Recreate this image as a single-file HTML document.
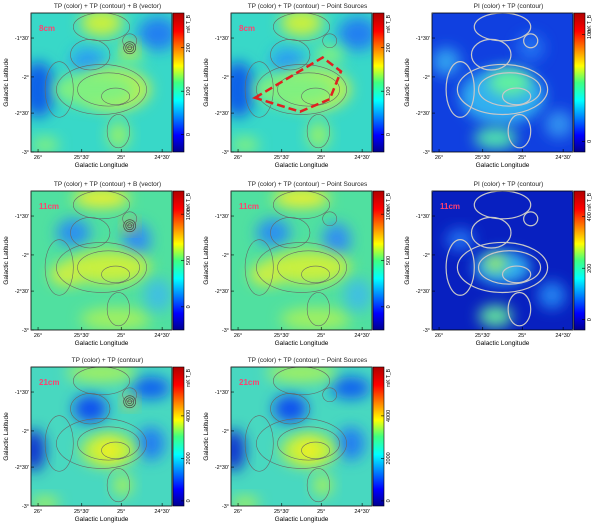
<!DOCTYPE html>
<html><head><meta charset="utf-8">
<style>
html,body{margin:0;padding:0;background:#fff;}
body{width:600px;height:526px;overflow:hidden;font-family:"Liberation Sans",sans-serif;}
svg text{font-family:"Liberation Sans",sans-serif;}
</style></head>
<body>
<svg id="fig" width="600" height="526" viewBox="0 0 600 526" xmlns="http://www.w3.org/2000/svg">
<defs>
<linearGradient id="jet" x1="0" y1="1" x2="0" y2="0">
<stop offset="0" stop-color="#00008f"/><stop offset="0.12" stop-color="#0000ff"/>
<stop offset="0.37" stop-color="#00ffff"/><stop offset="0.5" stop-color="#40ff80"/>
<stop offset="0.62" stop-color="#ffff00"/><stop offset="0.87" stop-color="#ff0000"/>
<stop offset="1" stop-color="#b00000"/></linearGradient>
<filter id="bl" x="-50%" y="-50%" width="200%" height="200%"><feGaussianBlur stdDeviation="7"/></filter>
</defs>
</svg>
<script>
const xTickLabels=["26°","25°30'","25°","24°30'"];
const xTickPos=[0.05,0.36,0.64,0.93];
const yTickLabels=["-1°30'","-2°","-2°30'","-3°"];
const yTickPos=[0.18,0.46,0.72,1.0];
const titles=["TP (color) + TP (contour) + B (vector)","TP (color) + TP (contour) \u2212 Point Sources","PI (color) + TP (contour)",
"TP (color) + TP (contour) + B (vector)","TP (color) + TP (contour) \u2212 Point Sources","PI (color) + TP (contour)",
"TP (color) + TP (contour)","TP (color) + TP (contour) \u2212 Point Sources"];
const bands=["8cm","8cm","","11cm","11cm","11cm","21cm","21cm"];
const cbarTicks=[[0,100,200],[0,100,200],[0,100],[0,500,1000],[0,500,1000],[0,200,400],[0,2000,4000],[0,2000,4000]];
const cbarMin=[-40,-40,-10,-250,-250,-40,-240,-240];
const cbarMax=[280,280,120,1250,1250,500,6300,6300];
const colX=[31,231,432], rowY=[13,191,367], W=141, H=139;
const NS="http://www.w3.org/2000/svg";
const svg=document.getElementById('fig');
function mk(t,a,p){const e=document.createElementNS(NS,t);for(const k in a)e.setAttribute(k,a[k]);(p||svg).appendChild(e);return e;}
const tpBlobs=[[0.5,0.5,0.7,0.7,"#38d8c8"],[0.05,0.55,0.12,0.2,"#1060e8"],[0.4,0.35,0.12,0.1,"#2aa0f0"],[0.9,0.15,0.14,0.12,"#2080f0"],
[0.5,0.07,0.15,0.1,"#c8f040"],[0.6,0.55,0.25,0.15,"#c0f050"],[0.45,0.55,0.3,0.12,"#80f080"],[0.7,0.3,0.1,0.07,"#80f080"],[0.62,0.88,0.08,0.1,"#90f070"],[0.1,0.95,0.1,0.06,"#80f080"]];
const tp2Blobs=[[0.5,0.5,0.7,0.7,"#50e0a0"],[0.3,0.3,0.12,0.1,"#2a90f0"],[0.75,0.35,0.1,0.12,"#3090f0"],[0.5,0.05,0.2,0.07,"#e8f030"],
[0.55,0.55,0.3,0.12,"#c8f040"],[0.25,0.6,0.12,0.08,"#d0f040"],[0.6,0.92,0.25,0.08,"#a0f060"],[0.9,0.75,0.1,0.12,"#40c0e0"]];
const piBlobs=[[0.5,0.5,0.7,0.7,"#1040e0"],[0.5,0.6,0.3,0.2,"#30b0f0"],[0.55,0.5,0.15,0.1,"#60f0a0"],[0.45,0.9,0.15,0.08,"#50e0b0"],[0.1,0.35,0.1,0.1,"#30a0f0"],[0.9,0.8,0.1,0.1,"#3090f0"],[0.7,0.25,0.1,0.1,"#2070f0"]];
const pi2Blobs=[[0.5,0.5,0.7,0.7,"#0820c0"],[0.5,0.55,0.2,0.12,"#30b0f0"],[0.45,0.52,0.08,0.06,"#a0f060"],[0.45,0.9,0.12,0.08,"#60e0a0"],[0.85,0.75,0.1,0.1,"#2080f0"],[0.2,0.35,0.1,0.08,"#2070f0"]];
const hiBlobs=[[0.5,0.5,0.7,0.7,"#48d8c0"],[0.42,0.3,0.12,0.1,"#1050f0"],[0.02,0.6,0.08,0.15,"#1030d0"],[0.85,0.55,0.1,0.12,"#2080f0"],[0.85,0.15,0.14,0.08,"#1060f0"],
[0.55,0.6,0.2,0.12,"#c0f040"],[0.55,0.6,0.08,0.07,"#f0f020"],[0.5,0.04,0.25,0.07,"#a0f060"],[0.65,0.85,0.07,0.08,"#a0f060"],[0.1,0.98,0.1,0.05,"#a0f060"]];
const panelBlobs=[tpBlobs,tpBlobs,piBlobs,tp2Blobs,tp2Blobs,pi2Blobs,hiBlobs,hiBlobs];
const pointSrc=[true,false,false,true,false,false,true,false];
const contours=[[0.5,0.55,0.32,0.18],[0.55,0.55,0.22,0.12],[0.6,0.6,0.1,0.06],[0.7,0.2,0.05,0.05],[0.5,0.1,0.2,0.1],[0.62,0.85,0.08,0.12],[0.42,0.3,0.14,0.11],[0.2,0.55,0.1,0.2]];
for(let i=0;i<8;i++){
 const x0=colX[i%3], y0=rowY[Math.floor(i/3)];
 const g=mk('g',{});
 
 
 const cp=mk('clipPath',{id:'c'+i},g); mk('rect',{x:x0,y:y0,width:W,height:H},cp);
 const img=mk('g',{'clip-path':'url(#c'+i+')'},g);
 
 
 panelBlobs[i].forEach((b,j)=>{mk('ellipse',{cx:x0+b[0]*W,cy:y0+b[1]*H,rx:b[2]*W,ry:b[3]*H,fill:b[4],filter:j?'url(#bl)':''},img);});
 if(pointSrc[i]){mk('circle',{cx:x0+0.7*W,cy:y0+0.25*H,r:6,fill:'#f0c020',filter:'url(#bl)'},img);
  [2,4,6].forEach(r=>mk('circle',{cx:x0+0.7*W,cy:y0+0.25*H,r:r,fill:'none',stroke:'#444','stroke-width':0.7},img));}
 contours.forEach(c=>{mk('ellipse',{cx:x0+c[0]*W,cy:y0+c[1]*H,rx:c[2]*W,ry:c[3]*H,fill:'none',stroke:i%3==2?'#c8c8c8':'#666','stroke-width':i%3==2?1.2:0.6},img);});
 if(i==1){const p=mk('path',{d:`M${x0+0.17*W},${y0+0.61*H} L${x0+0.65*W},${y0+0.32*H} L${x0+0.78*W},${y0+0.42*H} L${x0+0.7*W},${y0+0.62*H} L${x0+0.49*W},${y0+0.71*H} Z`,fill:'none',stroke:'#e02020','stroke-width':2.5,'stroke-dasharray':'8,4'},img);}
 mk('rect',{x:x0,y:y0,width:W,height:H,fill:'none',stroke:'#000','stroke-width':0.8},g);
 if(bands[i]){const t=mk('text',{x:x0+8,y:y0+18,'font-size':8,fill:'#ff4070','font-weight':'bold'},g);t.textContent=bands[i];}
 const tt=mk('text',{x:x0+W/2+6,y:y0-5,'font-size':6.5,'text-anchor':'middle',fill:'#222'},g);tt.textContent=titles[i];
 
 xTickLabels.forEach((l,k)=>{const x=x0+xTickPos[k]*W;mk('line',{x1:x,y1:y0+H,x2:x,y2:y0+H-3,stroke:'#000','stroke-width':0.6},g);
  const t=mk('text',{x:x,y:y0+H+7,'font-size':5.5,'text-anchor':'middle'},g);t.textContent=l;});
 yTickLabels.forEach((l,k)=>{const y=y0+yTickPos[k]*H;mk('line',{x1:x0,y1:y,x2:x0+3,y2:y,stroke:'#000','stroke-width':0.6},g);
  const t=mk('text',{x:x0-2,y:y+2,'font-size':5.5,'text-anchor':'end'},g);t.textContent=l;});
 const xl=mk('text',{x:x0+W/2,y:y0+H+15,'font-size':6.5,'text-anchor':'middle'},g);xl.textContent='Galactic Longitude';
 
 const yl=mk('text',{x:0,y:0,'font-size':6.5,'text-anchor':'middle',transform:`translate(${x0-23},${y0+H/2}) rotate(-90)`},g);yl.textContent='Galactic Latitude';
 
 const cx=x0+W+1;
 const cb=mk('rect',{x:cx,y:y0,width:11,height:H,fill:'url(#jet)',stroke:'#000','stroke-width':0.6},g);
 
 cbarTicks[i].forEach(v=>{const y=y0+H-(v-cbarMin[i])/(cbarMax[i]-cbarMin[i])*H;
  mk('line',{x1:cx+11,y1:y,x2:cx+8,y2:y,stroke:'#000','stroke-width':0.6},g);
  const t=mk('text',{x:0,y:0,'font-size':5.5,'text-anchor':'middle',transform:`translate(${cx+17},${y}) rotate(-90)`},g);t.textContent=v;});
 const u=mk('text',{x:0,y:0,'font-size':5,'text-anchor':'end',transform:`translate(${cx+17},${y0+2}) rotate(-90)`},g);u.textContent='mK T_B';
}
</script>
</body></html>
